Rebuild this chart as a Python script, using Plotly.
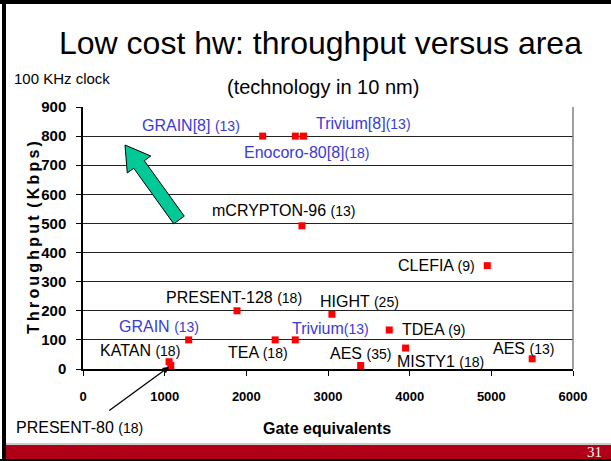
import math
import plotly.graph_objects as go

# ciphers: area (gate equivalents) vs throughput at 100 KHz
names = ["GRAIN[8]", "Enocoro-80[8]", "Trivium[8]", "mCRYPTON-96", "CLEFIA",
         "PRESENT-128", "HIGHT", "GRAIN", "Trivium", "TDEA", "KATAN", "TEA",
         "AES", "MISTY1", "AES", "PRESENT-80"]
rounds = [13, 18, 13, 13, 9, 18, 25, 13, 13, 9, 18, 18, 35, 18, 13, 18]
gates = [2200, 2600, 2700, 2681, 4950, 1886, 3048, 1294, 2599, 3750,
         1054, 2353, 3400, 3950, 5500, 1075]
kbps = [800, 800, 800, 492, 355, 200, 188, 100, 100, 134,
        25, 100, 12, 72, 35, 12]
stream_ciphers = ["GRAIN[8]", "Enocoro-80[8]", "Trivium[8]", "GRAIN", "Trivium"]
no_space = ["Enocoro-80[8]", "Trivium[8]", "Trivium"]

x_ticks = [0, 1000, 2000, 3000, 4000, 5000, 6000]
y_ticks = [0, 100, 200, 300, 400, 500, 600, 700, 800, 900]

# label offsets from the marker, in pixels (right, down)
label_offsets = [(-72, -11), (11, 16), (60, -13), (-18, -15), (-51, 0),
                 (-3, -13), (28, -13), (-30, -13), (35, -11), (44, 0),
                 (-29, -11), (-17, 13), (0, -12), (35, 13), (-9, -10), None]

W, H = 611, 461
ML, MR, MT, MB = 83, 38, 107, 92
PW, PH = W - ML - MR, H - MT - MB
XMAX, YMAX = 6000, 900

SANS = "Liberation Sans, Arial, sans-serif"
BLUE = "#3a3ad8"


def px(p):
    return (p - ML) / PW


def py(p):
    return (H - MB - p) / PH


def to_data(p):
    return ((p[0] - ML) / PW * XMAX, (H - MB - p[1]) / PH * YMAX)


fig = go.Figure()

fig.add_trace(go.Scatter(
    x=gates, y=kbps, mode="markers",
    marker=dict(symbol="square", size=7, color="#ff0000", line=dict(width=0)),
    hoverinfo="skip", showlegend=False
))

annotations = []
for name, r, gx, ty, off in zip(names, rounds, gates, kbps, label_offsets):
    color = BLUE if name in stream_ciphers else "black"
    sep = "" if name in no_space else " "
    text = f"{name}{sep}<span style='font-size:14px'>({r})</span>"
    if off is None:
        # label sits away from the point, linked with an arrow
        annotations.append(dict(
            x=px(79), y=py(427), xref="paper", yref="paper", text=text,
            xanchor="center", yanchor="middle", showarrow=False,
            font=dict(family=SANS, size=16, color=color)))
        annotations.append(dict(
            x=gx, y=ty, xref="x", yref="y", text="", showarrow=True,
            ax=-63, ay=46, arrowhead=2, arrowsize=1, arrowwidth=1.3,
            arrowcolor="black", standoff=2))
        continue
    annotations.append(dict(
        x=gx, y=ty, xref="x", yref="y", text=text, showarrow=False,
        xshift=off[0], yshift=-off[1], xanchor="center", yanchor="middle",
        font=dict(family=SANS, size=16, color=color)))

thin = "\u2009"
y_title = thin.join("Throughput") + " " + thin + thin.join("(Kbps)")

texts = [
    dict(x=px(320), y=py(43), text="Low cost hw: throughput versus area",
         font=dict(family=SANS, size=32, color="black")),
    dict(x=px(12), y=py(78), xanchor="left", text="100 KHz clock",
         font=dict(family=SANS, size=15, color="black")),
    dict(x=px(323), y=py(87), text="(technology in 10 nm)",
         font=dict(family=SANS, size=20, color="black")),
    dict(x=px(33), y=py(238), textangle=-90, text=y_title,
         font=dict(family=SANS, size=16, color="black", weight="bold")),
    dict(x=px(327), y=py(428), text="Gate equivalents",
         font=dict(family=SANS, size=16, color="black", weight="bold")),
    dict(x=px(604), y=py(452), xanchor="right", text="31",
         font=dict(family="Liberation Serif, Times New Roman, serif", size=15,
                   color="white")),
]
for a in texts:
    a.setdefault("xanchor", "center")
    a.update(xref="paper", yref="paper", yanchor="middle", showarrow=False)
annotations += texts

# big green block arrow pointing to the low-area / high-throughput corner
tip, tail = (125, 145), (179, 220)
dx, dy = tip[0] - tail[0], tip[1] - tail[1]
length = math.hypot(dx, dy)
ux, uy = dx / length, dy / length
nx, ny = -uy, ux
head_len, head_half, shaft_half = 24, 14.5, 6.5
bx, by = tip[0] - ux * head_len, tip[1] - uy * head_len
poly = [
    (tail[0] + nx * shaft_half, tail[1] + ny * shaft_half),
    (bx + nx * shaft_half, by + ny * shaft_half),
    (bx + nx * head_half, by + ny * head_half),
    tip,
    (bx - nx * head_half, by - ny * head_half),
    (bx - nx * shaft_half, by - ny * shaft_half),
    (tail[0] - nx * shaft_half, tail[1] - ny * shaft_half),
]
pts = [to_data(p) for p in poly]
path = "M " + " L ".join(f"{x:.2f},{y:.2f}" for x, y in pts) + " Z"

shapes = [
    dict(type="path", path=path, xref="x", yref="y",
         fillcolor="#00c896", line=dict(color="black", width=1)),
    # right edge of plot area
    dict(type="line", xref="paper", yref="paper", x0=1, x1=1, y0=0, y1=1,
         line=dict(color="#808080", width=1.5)),
    # slide frame
    dict(type="rect", xref="paper", yref="paper", x0=px(2), x1=px(6),
         y0=py(461), y1=py(0), fillcolor="black", line=dict(width=0)),
    dict(type="rect", xref="paper", yref="paper", x0=px(0), x1=px(611),
         y0=py(4), y1=py(0), fillcolor="black", line=dict(width=0)),
    dict(type="line", xref="paper", yref="paper", x0=px(6), x1=px(611),
         y0=py(444), y1=py(444), line=dict(color="#999999", width=1)),
    dict(type="rect", xref="paper", yref="paper", x0=px(6), x1=px(611),
         y0=py(459), y1=py(445), fillcolor="#b00018", line=dict(width=0)),
    dict(type="rect", xref="paper", yref="paper", x0=px(0), x1=px(611),
         y0=py(461), y1=py(459), fillcolor="black", line=dict(width=0)),
]

fig.update_layout(
    width=W, height=H,
    margin=dict(l=ML, r=MR, t=MT, b=MB),
    paper_bgcolor="white", plot_bgcolor="white",
    showlegend=False,
    annotations=annotations,
    shapes=shapes,
    xaxis=dict(
        range=[0, XMAX], tickvals=x_ticks, showgrid=False, zeroline=False,
        showline=True, linecolor="black", linewidth=1.5,
        ticks="outside", ticklen=5, tickcolor="black", ticklabelstandoff=10,
        tickfont=dict(family=SANS, size=13, color="black", weight="bold")),
    yaxis=dict(
        range=[0, YMAX], tickvals=y_ticks, showgrid=True, gridcolor="#222222",
        gridwidth=1.2, zeroline=False,
        showline=True, linecolor="black", linewidth=1.5,
        ticks="outside", ticklen=5, tickcolor="black", ticklabelstandoff=7,
        tickfont=dict(family=SANS, size=15, color="black", weight="bold")),
)

fig.write_html("out.html", config={"displayModeBar": False},
               post_script="document.body.style.margin = '0';")
